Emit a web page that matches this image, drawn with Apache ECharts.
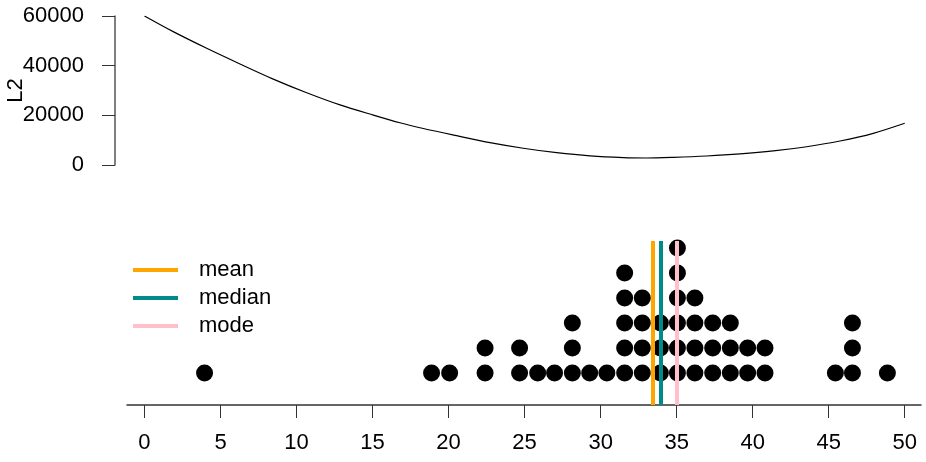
<!DOCTYPE html>
<html>
<head>
<meta charset="utf-8">
<script src="https://cdn.jsdelivr.net/npm/echarts@6/dist/echarts.min.js"></script>
<style>html,body{margin:0;padding:0;background:#fff;}#c{width:926px;height:462px;}</style>
</head>
<body>
<div id="c"></div>
<script>
// Dot plot: bin centre x and number of stacked dots
const dotX = [3.95, 18.88, 20.07, 22.40, 24.67, 25.86, 26.97, 28.14, 29.28, 30.41, 31.58, 32.74, 33.93, 35.05, 36.20, 37.37, 38.53, 39.67, 40.81, 45.44, 46.56, 48.86];
const dotCount = [1, 1, 1, 2, 2, 1, 1, 3, 1, 1, 5, 4, 3, 6, 4, 3, 3, 2, 2, 1, 3, 1];
// L2 curve
const curveX = [0, 1.89, 4.09, 6.28, 8.47, 10.67, 12.86, 15.05, 16.80, 18.34, 20.53, 22.72, 24.91, 27.11, 29.30, 31.49, 33.0, 34.78, 36.98, 39.17, 41.36, 43.55, 45.74, 47.93, 50];
const curveY = [60000, 53700, 47000, 40700, 34600, 29100, 24200, 20100, 17000, 14700, 11800, 9000, 6750, 4950, 3650, 2950, 2820, 3080, 3620, 4450, 5650, 7350, 9650, 12750, 16800];
// Summary statistics
const statNames = ['mean', 'median', 'mode'];
const statValues = [33.42, 33.96, 35.0];
const statColors = ['#FFA500', '#008B8B', '#FFC0CB'];
// Tick labels
const xTicks = [0, 5, 10, 15, 20, 25, 30, 35, 40, 45, 50];
const yTicks = [0, 20000, 40000, 60000];

const FONT = 'Liberation Sans, Arial, Helvetica, sans-serif';
const FS = 22;
const xMin = -1.15, xMax = 51.07;

const dots = [];
dotX.forEach((x, i) => { for (let k = 1; k <= dotCount[i]; k++) dots.push([x, k]); });

const statSeries = statNames.map((n, i) => ({
  name: n, type: 'line', xAxisIndex: 1, yAxisIndex: 1, data: [],
  color: statColors[i],
  itemStyle: { color: statColors[i] },
  lineStyle: { color: statColors[i], width: 4 },
  markLine: {
    silent: true, symbol: 'none', animation: false,
    label: { show: false },
    lineStyle: { color: statColors[i], width: 4, type: 'solid' },
    data: [{ xAxis: statValues[i] }]
  },
  z: 5
}));

const chart = echarts.init(document.getElementById('c'), null, { renderer: 'canvas' });
chart.setOption({
  animation: false,
  textStyle: { fontFamily: FONT },
  grid: [
    { left: 127, right: 5, top: 16, bottom: 462 - 165, outerBoundsMode: 'none', containLabel: false },
    { left: 127, right: 5, top: 241, bottom: 462 - 405, outerBoundsMode: 'none', containLabel: false }
  ],
  legend: {
    orient: 'vertical', left: 133, top: 259, itemGap: 6, padding: 0,
    itemWidth: 45, itemHeight: 4, icon: 'rect',
    textStyle: { fontSize: FS, color: '#000', fontFamily: FONT, padding: [0, 0, 0, 16] },
    data: statNames
  },
  xAxis: [
    { gridIndex: 0, type: 'value', min: xMin, max: xMax, show: false },
    {
      gridIndex: 1, type: 'value', min: xMin, max: xMax,
      axisLine: { show: true, onZero: false, lineStyle: { color: '#333', width: 1.5 } },
      axisTick: { show: true, length: 13, customValues: xTicks, lineStyle: { color: '#333' } },
      axisLabel: { customValues: xTicks, fontSize: FS, color: '#000', margin: 27, fontFamily: FONT },
      splitLine: { show: false }
    }
  ],
  yAxis: [
    {
      gridIndex: 0, type: 'value', min: 0, max: 60000, interval: 20000, offset: 12,
      name: 'L2', nameLocation: 'middle', nameGap: 88, nameRotate: 90, nameMoveOverlap: false,
      nameTextStyle: { fontSize: FS, color: '#000', fontFamily: FONT },
      axisLine: { show: true, onZero: false, lineStyle: { color: '#555', width: 1.5 } },
      axisTick: { show: true, length: 13, lineStyle: { color: '#333' } },
      axisLabel: { fontSize: FS, color: '#000', margin: 31, fontFamily: FONT, formatter: v => String(v) },
      splitLine: { show: false }
    },
    { gridIndex: 1, type: 'value', min: -0.28, max: 6.28, show: false }
  ],
  series: [
    {
      type: 'line', xAxisIndex: 0, yAxisIndex: 0, smooth: 0.3, showSymbol: false,
      data: curveX.map((x, i) => [x, curveY[i]]),
      lineStyle: { color: '#000', width: 1.2 }, silent: true
    },
    {
      type: 'scatter', xAxisIndex: 1, yAxisIndex: 1, data: dots,
      symbolSize: 17, itemStyle: { color: '#000', opacity: 1 }, clip: false, silent: true, z: 3
    }
  ].concat(statSeries)
});
</script>
</body>
</html>
